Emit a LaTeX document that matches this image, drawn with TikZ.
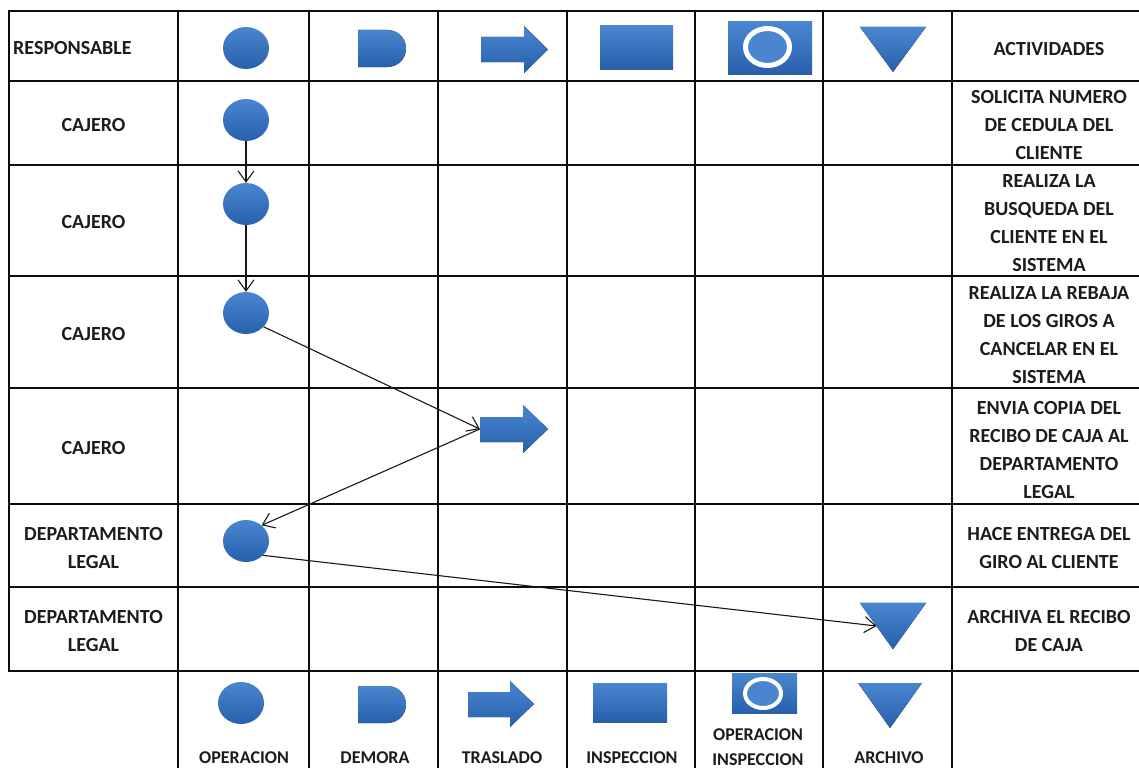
\documentclass[tikz,border=0pt]{standalone}
\usepackage{fontspec}
\setmainfont{Carlito}
\usetikzlibrary{shapes.geometric,arrows.meta,calc}
\definecolor{blueA}{RGB}{74,134,208}
\definecolor{blueB}{RGB}{40,96,170}
\definecolor{gridc}{RGB}{12,12,12}
\definecolor{txt}{RGB}{28,28,30}
\begin{document}
\begin{tikzpicture}[x=1pt,y=-1pt,
  gridline/.style={line width=2.6pt, color=gridc},
  fillb/.style={top color=blueA, bottom color=blueB, draw=none},
  op/.style={ellipse, minimum width=46pt, minimum height=42pt, inner sep=0pt, fillb},
  lbl/.style={font=\fontsize{20}{28}\selectfont\bfseries, align=center, inner sep=0pt, anchor=base, text=txt},
  leg/.style={font=\fontsize{18}{25}\selectfont\bfseries, align=center, inner sep=0pt, anchor=base, text=txt},
  conn/.style={line width=1.1pt, draw=black!90, -{Straight Barb[length=11pt,width=16pt,line width=1.1pt]}},
  ring/.style={draw=white, fill=blueA}
]
\useasboundingbox (0,0) rectangle (1139,768);
\fill[white] (0,0) rectangle (1139,768);

% grid
\foreach \y in {11,81,165,276,388,504,587,671}
  \draw[gridline] (7.7,\y) -- (1139,\y);
\draw[gridline] (9,9.7) -- (9,672.3);
\foreach \x in {178,309,438,567,695,823,952}
  \draw[gridline] (\x,9.7) -- (\x,768);

% header row
\node[lbl, anchor=base west] (hresp) at (13,55) {RESPONSABLE};
\node[op] (h1) at (246,48) {};
\fill[fillb] (358,30) -- (387.5,30) arc[start angle=-90, end angle=90, radius=18.5] -- (358,67) -- cycle;
\fill[fillb] (481,37) -- (524,37) -- (524,26) -- (548,49.5) -- (524,73) -- (524,62) -- (481,62) -- cycle;
\fill[fillb] (600,26) rectangle (673,69);
\fill[fillb] (728,22) rectangle (812,74);
\draw[ring, line width=5pt] (767.5,47) ellipse[x radius=22, y radius=18.5];
\fill[fillb] (860,27) -- (926,27) -- (893,72) -- cycle;
\node[lbl] (hact) at (1049,55.5) {ACTIVIDADES};

% responsible column (anchor = baseline of last line)
\node[lbl] (r1) at (93.5,131.5) {CAJERO};
\node[lbl] (r2) at (93.5,228.5) {CAJERO};
\node[lbl] (r3) at (93.5,340.5) {CAJERO};
\node[lbl] (r4) at (93.5,454.5) {CAJERO};
\node[lbl] (r5) at (93.5,568.5) {DEPARTAMENTO\\LEGAL};
\node[lbl] (r6) at (93.5,651.5) {DEPARTAMENTO\\LEGAL};

% activities column
\node[lbl] (a1) at (1049,159.5) {SOLICITA NUMERO\\DE CEDULA DEL\\CLIENTE};
\node[lbl] (a2) at (1049,271.5) {REALIZA LA\\BUSQUEDA DEL\\CLIENTE EN EL\\SISTEMA};
\node[lbl] (a3) at (1049,383.5) {REALIZA LA REBAJA\\DE LOS GIROS A\\CANCELAR EN EL\\SISTEMA};
\node[lbl] (a4) at (1049,498.5) {ENVIA COPIA DEL\\RECIBO DE CAJA AL\\DEPARTAMENTO\\LEGAL};
\node[lbl] (a5) at (1049,568.5) {HACE ENTREGA DEL\\GIRO AL CLIENTE};
\node[lbl] (a6) at (1049,651.5) {ARCHIVA EL RECIBO\\DE CAJA};

% process symbols
\node[op] (c1) at (246,120) {};
\node[op] (c2) at (246,204) {};
\node[op] (c3) at (246,313) {};
\node[minimum width=68pt, minimum height=48pt, inner sep=0pt] (tr) at (514,429) {};
\fill[fillb] (480,417) -- (523,417) -- (523,405) -- (548,429) -- (523,453) -- (523,442) -- (480,442) -- cycle;
\node[op] (c5) at (246,541) {};
\node[minimum width=66pt, minimum height=46pt, inner sep=0pt] (ar) at (893,626) {};
\fill[fillb] (ar.north west) -- (ar.north east) -- (ar.south) -- cycle;

% connectors
\draw[conn] (c1) -- (c2);
\draw[conn] (c2) -- (c3);
\draw[conn] (c3.-38) -- (tr.west);
\draw[conn] (tr.west) -- (c5.45);
\draw[conn] (c5.-40) -- ($(ar.north west)!0.5!(ar.south)$);

% legend row
\node[op] (l1) at (241,703) {};
\fill[fillb] (358,686) -- (387.5,686) arc[start angle=-90, end angle=90, radius=18.5] -- (358,723) -- cycle;
\fill[fillb] (468,692) -- (510,692) -- (510,681) -- (534,704) -- (510,727) -- (510,717) -- (468,717) -- cycle;
\fill[fillb] (593,683) rectangle (667,722);
\fill[fillb] (732,673) rectangle (797,713);
\draw[ring, line width=4pt] (763,693.5) ellipse[x radius=18, y radius=14.5];
\fill[fillb] (858,683) -- (922,683) -- (890,728) -- cycle;

\node[leg] (t1) at (244,763.3) {OPERACION};
\node[leg] (t2) at (375,763.3) {DEMORA};
\node[leg] (t3) at (502,763.3) {TRASLADO};
\node[leg] (t4) at (632,763.3) {INSPECCION};
\node[leg] (t5) at (758,765.8) {OPERACION\\INSPECCION};
\node[leg] (t6) at (889,763.3) {ARCHIVO};
\end{tikzpicture}
\end{document}
